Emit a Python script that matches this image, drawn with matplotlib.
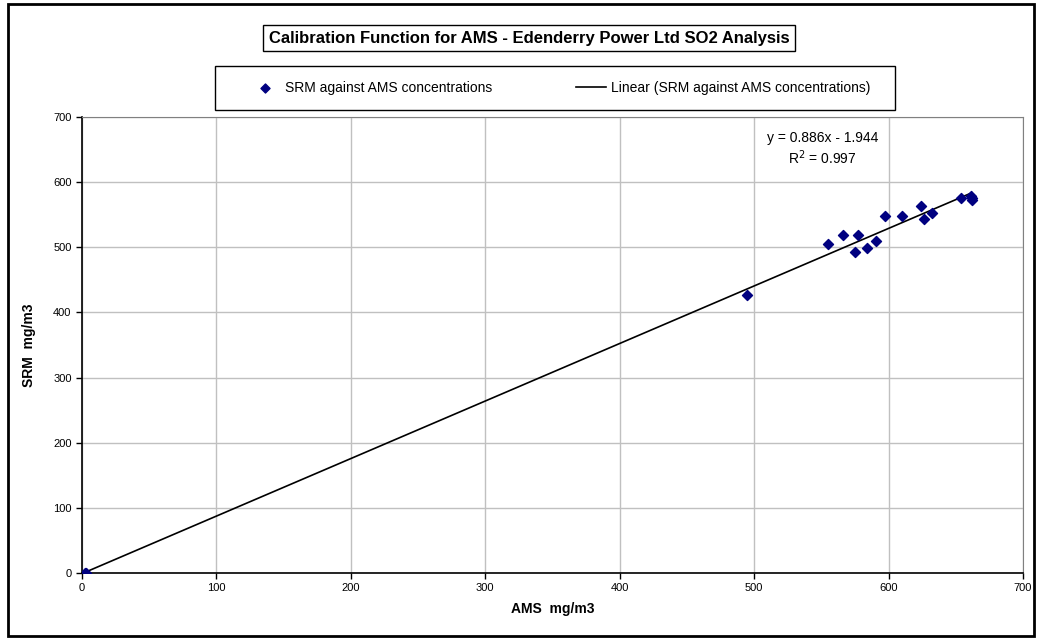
import numpy as np
import matplotlib
matplotlib.use("Agg")
import matplotlib.pyplot as plt
from matplotlib.patches import Rectangle

plt.rcParams['font.family'] = ['Liberation Sans', 'DejaVu Sans']

# AMS vs SRM readings (mg/m3)
ams = [2, 3, 495, 555, 566, 575, 577, 584, 591, 597, 610, 624, 626, 632, 654, 661, 662, 662]
srm = [0, 0, 427, 505, 519, 492, 519, 499, 510, 548, 548, 564, 544, 553, 575, 579, 572, 575]

title = "Calibration Function for AMS - Edenderry Power Ltd SO2 Analysis"
x_ticks = [0, 100, 200, 300, 400, 500, 600, 700]
y_ticks = [0, 100, 200, 300, 400, 500, 600, 700]

W, H = 1041, 641
fig = plt.figure(figsize=(W / 100, H / 100), dpi=100)

# outer chart border
fig.add_artist(Rectangle((8 / W, 1 - 636 / H), 1026 / W, 632 / H, transform=fig.transFigure,
                         fill=False, edgecolor='black', linewidth=2))

ax = fig.add_axes([82 / W, 1 - 573 / H, (1023 - 82) / W, (573 - 117) / H])

# trend line from least squares fit
slope, intercept = np.polyfit(ams, srm, 1)
xs = np.array([min(ams), max(ams)])
ax.plot(xs, slope * xs + intercept, color='black', linewidth=1.2,
        label='Linear (SRM against AMS concentrations)', zorder=2)
ax.scatter(ams, srm, marker='D', s=26, color='#000080', zorder=3,
           label='SRM against AMS concentrations')

ax.set_xlim(0, 700)
ax.set_ylim(0, 700)
ax.set_xticks(x_ticks)
ax.set_yticks(y_ticks)
ax.grid(True, color='#c0c0c0', linewidth=1)
ax.set_axisbelow(True)
ax.tick_params(direction='out', length=4, labelsize=8, width=1)
for s in ['top', 'right']:
    ax.spines[s].set_color('#808080')
    ax.spines[s].set_linewidth(0.8)
for s in ['left', 'bottom']:
    ax.spines[s].set_color('black')
    ax.spines[s].set_linewidth(1.2)

ax.set_xlabel('AMS  mg/m3', fontsize=10, fontweight='bold', labelpad=6)
ax.set_ylabel('SRM  mg/m3', fontsize=10, fontweight='bold', labelpad=12)

# equation of the trend line
ax.text(0.787, 0.97, "y = 0.886x - 1.944\nR$^2$ = 0.997", transform=ax.transAxes,
        ha='center', va='top', fontsize=10, linespacing=1.25)

fig.text(529 / W, 1 - 38 / H, title, ha='center', va='center', fontsize=12, fontweight='bold',
         bbox=dict(boxstyle='square,pad=0.35', facecolor='white', edgecolor='black', linewidth=1))

# legend frame drawn separately so the entries can sit inside it like the original
fig.add_artist(Rectangle((215 / W, 1 - 110 / H), 680 / W, 44 / H, transform=fig.transFigure,
                         fill=False, edgecolor='black', linewidth=1))
handles, labels = ax.get_legend_handles_labels()
leg = fig.legend(handles[::-1], labels[::-1], loc='center', ncol=2, mode='expand',
                 bbox_to_anchor=(250 / W, 1 - 110 / H, 620 / W, 44 / H),
                 fontsize=10, frameon=False, borderpad=0, borderaxespad=0,
                 handlelength=2.2, handletextpad=0.3, markerscale=0.9)

fig.savefig('out.png', dpi=100)
